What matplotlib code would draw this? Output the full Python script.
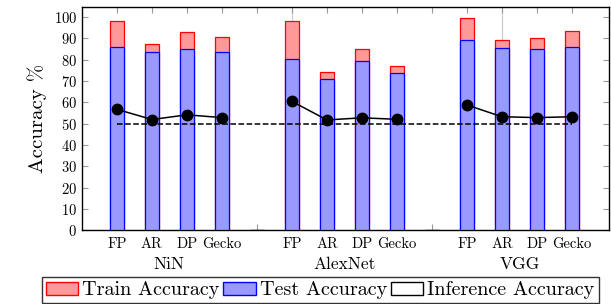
import matplotlib
matplotlib.use("Agg")
import matplotlib.pyplot as plt
from matplotlib.patches import Patch
import numpy as np

plt.rcParams['font.family'] = ['cmr10', 'DejaVu Serif']
plt.rcParams['mathtext.fontset'] = 'cm'
plt.rcParams['axes.formatter.use_mathtext'] = True

# data, one entry per slot (empty slots between models are 0)
groups = ['NiN', 'AlexNet', 'VGG']
methods = ['FP', 'AR', 'DP', 'Gecko']
train_acc = [98.2, 87.5, 92.9, 90.4, 0,
             98.0, 74.0, 84.8, 76.8, 0,
             99.7, 89.0, 90.3, 93.5]
test_acc = [86.1, 83.7, 85.2, 83.5, 0,
            80.2, 71.0, 79.3, 73.6, 0,
            89.0, 85.3, 85.0, 85.8]
infer_acc = [[56.7, 51.9, 54.1, 52.8],
             [60.4, 51.7, 52.7, 52.0],
             [58.7, 53.2, 52.8, 53.2]]
baseline = 50

x = np.arange(len(train_acc))
w = 0.4
red_fill = '#ff9999'
blue_fill = '#9999ff'

fig = plt.figure(figsize=(6.11, 3.04), dpi=100)
ax = fig.add_axes([0.134, 0.243, 0.863, 0.734])

for p in [5, 11]:
    ax.axvline(p, color='#cccccc', lw=0.9, zorder=0)

ax.bar(x, train_acc, w, color=red_fill, edgecolor='red', lw=0.9, zorder=2)
ax.bar(x, test_acc, w, color=blue_fill, edgecolor='blue', lw=0.9, zorder=3)

ax.plot([x[0], x[-1]], [baseline, baseline], 'k--', lw=1.1, zorder=4)
for g, vals in enumerate(infer_acc):
    xs = x[g * 5: g * 5 + 4]
    ax.plot(xs, vals, 'k-', marker='o', ms=7.5, lw=1.1, zorder=5)

ax.set_xlim(-1, 14.06)
ax.set_ylim(0, 104.7)
ax.set_yticks(range(0, 101, 10))
ax.set_xticks(x)
labels = []
for i in range(len(x)):
    labels.append(methods[i % 5] if i % 5 < 4 else '')
ax.set_xticklabels(labels, fontsize=10.5)
ax.tick_params(axis='y', labelsize=10.5)
ax.tick_params(direction='in', top=True, right=True, color='#999999', length=4)
ax.tick_params(axis='x', pad=5)
for s in ax.spines.values():
    s.set_linewidth(1.0)

for g, name in enumerate(groups):
    ax.text(g * 5 + 1.5, -16.2, name, ha='center', va='center', fontsize=12.5)

ax.set_ylabel('Accuracy %', fontsize=15, labelpad=5)

handles = [Patch(facecolor=red_fill, edgecolor='red', label='Train Accuracy'),
           Patch(facecolor=blue_fill, edgecolor='blue', label='Test Accuracy'),
           Patch(facecolor='white', edgecolor='black', label='Inference Accuracy')]
fig.legend(handles=handles, loc='center', bbox_to_anchor=(0.524, 0.045), ncol=3,
           fontsize=14.5, frameon=True, fancybox=False, edgecolor='black',
           handlelength=1.6, handleheight=0.6, handletextpad=0.2, columnspacing=0.2,
           borderpad=0.2, borderaxespad=0)

fig.savefig('out.png', dpi=100)
